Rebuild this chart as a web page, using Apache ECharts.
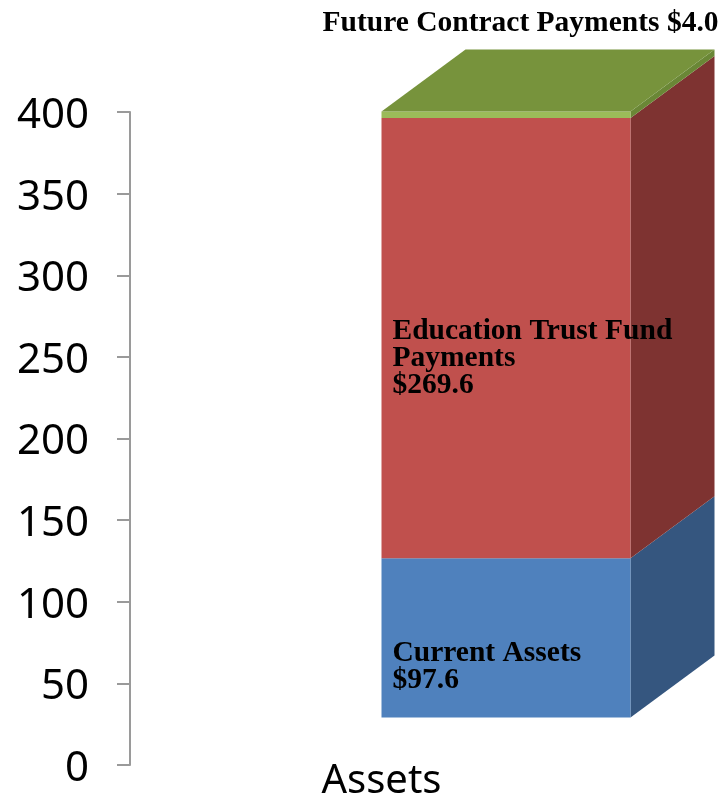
<!DOCTYPE html>
<html>
<head>
<meta charset="utf-8">
<script src="https://cdn.jsdelivr.net/npm/echarts@6/dist/echarts.min.js"></script>
<style>
html,body{margin:0;padding:0;background:#fff}
#chart{width:722px;height:802px}
</style>
</head>
<body>
<div id="chart"></div>
<script>
// data
var categories = ['Assets'];
var seriesNames = ['Current Assets', 'Education Trust Fund\nPayments', 'Future Contract Payments'];
var seriesValues = [97.6, 269.6, 4.0];
var labelSep = ['\n', '\n', ' '];
var yMin = 0, yMax = 400, yStep = 50;

// look of the 3d box
var frontColors = ['#4F81BD', '#C0504D', '#9BBB59'];
var sideColors = ['#35567F', '#7E3331', '#6A8736'];
var topColor = '#77933C';
var FRONT_W = 249, DX = 84, DY = -62, LIFT = -47.5;
var labelDy = [29, 20, 0];

var stacked = [], acc = 0;
seriesValues.forEach(function (v) {
    stacked.push([0, acc, acc + v]);
    acc += v;
});

function renderItem(params, api) {
    var i = params.dataIndex;
    var base = api.coord([api.value(0), api.value(1)]);
    var top = api.coord([api.value(0), api.value(2)]);
    var x0 = base[0], x1 = x0 + FRONT_W;
    var yb = base[1] + LIFT, yt = top[1] + LIFT;
    var kids = [];
    kids.push({
        type: 'polygon',
        shape: {points: [[x1, yb], [x1 + DX, yb + DY], [x1 + DX, yt + DY], [x1, yt]]},
        style: {fill: sideColors[i]}
    });
    kids.push({
        type: 'rect',
        shape: {x: x0, y: yt, width: FRONT_W, height: yb - yt},
        style: {fill: frontColors[i]}
    });
    var txt = seriesNames[i] + labelSep[i] + '$' + seriesValues[i].toFixed(1);
    if (i === seriesValues.length - 1) {
        kids.push({
            type: 'polygon',
            shape: {points: [[x0, yt], [x1, yt], [x1 + DX, yt + DY], [x0 + DX, yt + DY]]},
            style: {fill: topColor}
        });
        kids.push({
            type: 'text', x: x1 + DX + 4, y: yt + DY - 11,
            style: {text: txt, fill: '#000', fontSize: 29.5, fontWeight: 'bold',
                fontFamily: '"Liberation Serif", serif', align: 'right', verticalAlign: 'bottom'}
        });
    } else {
        kids.push({
            type: 'text', x: x0 + 11, y: (yb + yt) / 2 + labelDy[i],
            style: {text: txt, fill: '#000', fontSize: 29.5, fontWeight: 'bold', lineHeight: 27,
                fontFamily: '"Liberation Serif", serif', align: 'left', verticalAlign: 'middle'}
        });
    }
    return {type: 'group', children: kids};
}

var myChart = echarts.init(document.getElementById('chart'));
var option = {
    animation: false,
    grid: {left: 130, right: 89, top: 112, bottom: 37},
    xAxis: {
        type: 'category',
        data: categories,
        axisLine: {show: false},
        axisTick: {show: false},
        axisLabel: {fontSize: 40, fontFamily: 'Noto Sans', color: '#000', margin: -3}
    },
    yAxis: {
        type: 'value',
        min: yMin, max: yMax, interval: yStep,
        axisLine: {show: true, lineStyle: {color: '#9a9a9a', width: 2}},
        axisTick: {show: true, length: 13, lineStyle: {color: '#9a9a9a', width: 2}},
        splitLine: {show: false},
        axisLabel: {
            margin: 41,
            formatter: '{t|{value}}',
            rich: {t: {fontSize: 42, fontFamily: 'Noto Sans', color: '#000', padding: [8, 0, 0, 0]}}
        }
    },
    series: [{
        type: 'custom',
        renderItem: renderItem,
        encode: {x: 0, y: [1, 2]},
        data: stacked
    }]
};
myChart.setOption(option);
</script>
</body>
</html>
